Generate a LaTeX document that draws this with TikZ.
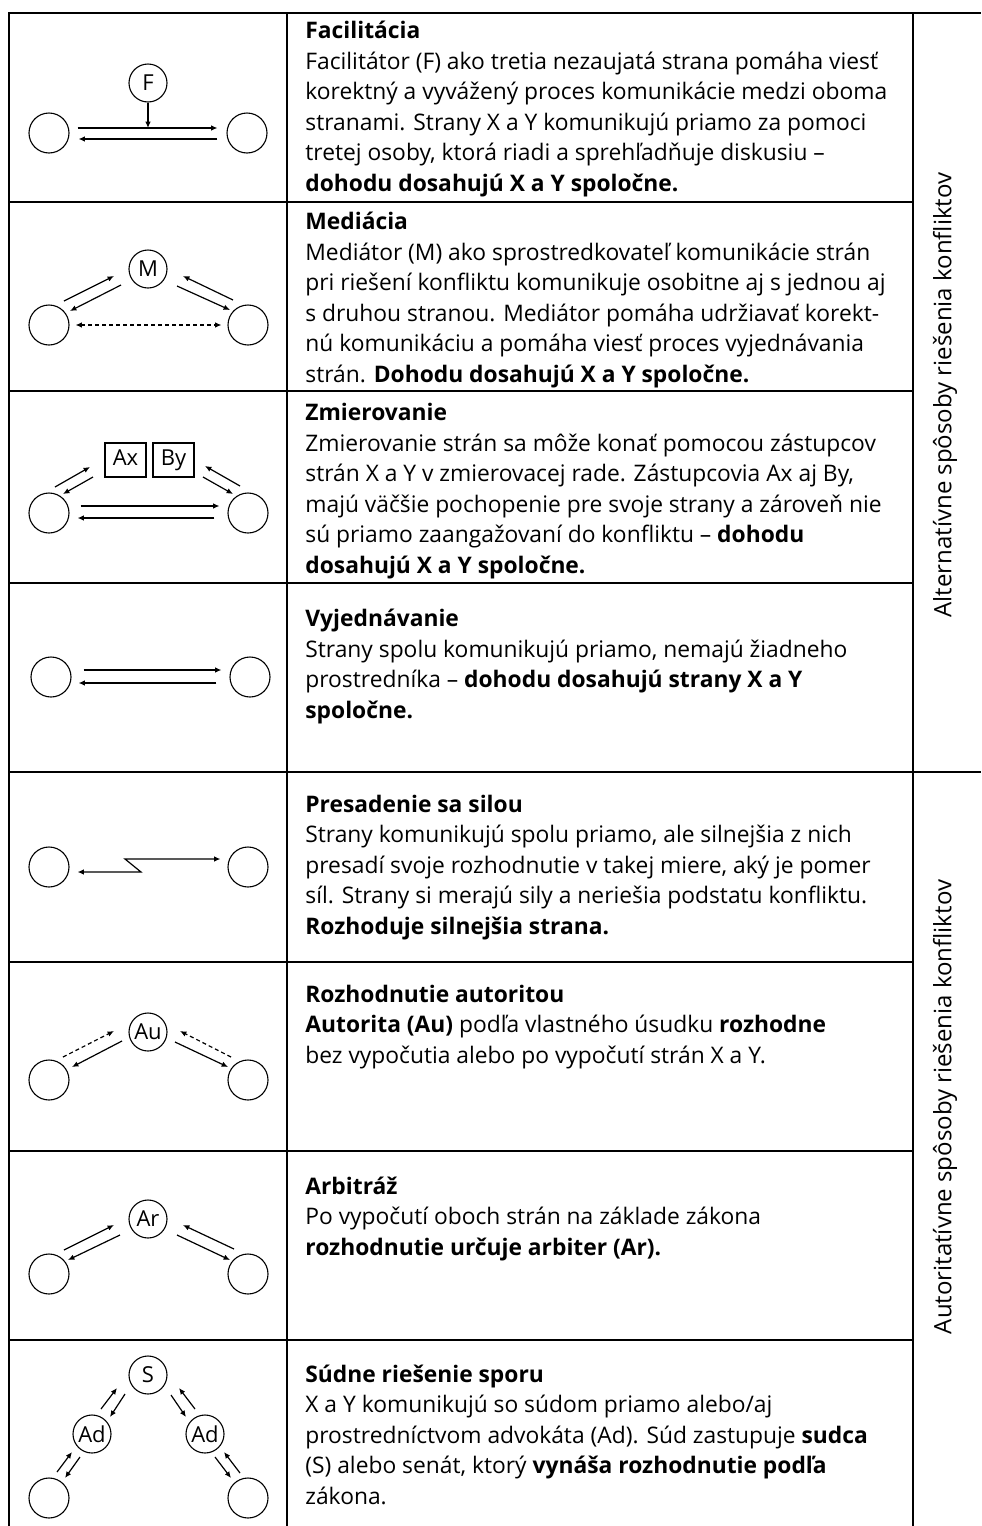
\documentclass[tikz,border=0pt]{standalone}
\usepackage{fontspec}
\setmainfont{Open Sans}
\usetikzlibrary{arrows.meta}

\begin{document}
\begin{tikzpicture}[x=0.5pt,y=-0.5pt,
    tbl/.style={line width=0.7pt},
    party/.style={circle,draw,line width=0.55pt,minimum size=20pt,inner sep=0pt},
    third/.style={circle,draw,line width=0.55pt,minimum size=19pt,inner sep=0pt,font=\fontsize{11}{11}\selectfont},
    rep/.style={rectangle,draw,line width=0.55pt,minimum width=20.5pt,minimum height=17pt,inner sep=0pt,
        text height=8pt,text depth=2.5pt,font=\fontsize{11}{11}\selectfont},
    arr/.style={-{Latex[length=3.2pt,width=2.8pt]},line width=0.6pt},
    arrboth/.style={{Latex[length=3.2pt,width=2.8pt]}-{Latex[length=3.2pt,width=2.8pt]},line width=0.6pt},
    dashes/.style={dash pattern=on 2pt off 1.5pt},
    cell/.style={anchor=base west,align=left,inner sep=0pt,font=\fontsize{11.4}{15.25}\selectfont},
    side/.style={rotate=90,inner sep=0pt,font=\fontsize{12}{14}\selectfont}]
    \useasboundingbox (0,0) rectangle (981,1526);

    % table
    \draw[tbl] (9,1526) -- (9,13) -- (981,13);
    \draw[tbl] (287,13) -- (287,1526);
    \draw[tbl] (913,13) -- (913,1526);
    \foreach \y in {202,391,583,962,1151,1340}
        \draw[tbl] (9,\y) -- (913,\y);
    \draw[tbl] (9,772) -- (981,772);

    \node[side] (altLbl) at (945,395) {Alternatívne spôsoby riešenia konfliktov};
    \node[side] (autLbl) at (945,1107) {Autoritatívne spôsoby riešenia konfliktov};

    % facilitacia
    \node[party] (fX) at (49,133) {};
    \node[party] (fY) at (247,133) {};
    \node[third] (fF) at (148,83) {F};
    \coordinate (fJoin) at (148,128);
    \draw[arr] ([shift={(8,-5)}]fX.east) -- ([shift={(-9,-5)}]fY.west);
    \draw[arr] ([shift={(-9,6)}]fY.west) -- ([shift={(9,6)}]fX.east);
    \draw[arr] (fF) -- (fJoin);
    \node[cell] (fText) at (305,191) {\textbf{Facilitácia}\\
        Facilitátor (F) ako tretia nezaujatá strana pomáha viesť\\
        korektný a vyvážený proces komunikácie medzi oboma\\
        stranami. Strany X a Y komunikujú priamo za pomoci\\
        tretej osoby, ktorá riadi a sprehľadňuje diskusiu –\\
        \textbf{dohodu dosahujú X a Y spoločne.}};

    % mediacia
    \node[party] (mX) at (49,325) {};
    \node[party] (mY) at (248,325) {};
    \node[third] (mM) at (148,269) {M};
    \draw[arr] ([shift={(15,-24)}]mX.center) -- ([shift={(-34,7)}]mM.center);
    \draw[arr] ([shift={(-27,16)}]mM.center) -- ([shift={(21,-14)}]mX.center);
    \draw[arr] ([shift={(-15,-25)}]mY.center) -- ([shift={(35,7)}]mM.center);
    \draw[arr] ([shift={(29,17)}]mM.center) -- ([shift={(-18,-15)}]mY.center);
    \draw[arrboth,dashes] ([xshift=3pt]mX.east) -- ([xshift=-3pt]mY.west);
    \node[cell] (mText) at (305,382) {\textbf{Mediácia}\\
        Mediátor (M) ako sprostredkovateľ komunikácie strán\\
        pri riešení konfliktu komunikuje osobitne aj s jednou aj\\
        s druhou stranou. Mediátor pomáha udržiavať korekt-\\
        nú komunikáciu a pomáha viesť proces vyjednávania\\
        strán. \textbf{Dohodu dosahujú X a Y spoločne.}};

    % zmierovanie
    \node[party] (zX) at (49,513) {};
    \node[party] (zY) at (248,513) {};
    \node[rep] (zA) at (125.5,460) {Ax};
    \node[rep] (zB) at (173.5,460) {By};
    \draw[arr] ([shift={(6,-26)}]zX.center) -- ([shift={(-35.5,7)}]zA.center);
    \draw[arr] ([shift={(-32.5,17)}]zA.center) -- ([shift={(14,-19)}]zX.center);
    \draw[arr] ([shift={(-8,-27)}]zY.center) -- ([shift={(31.5,6)}]zB.center);
    \draw[arr] ([shift={(29.5,17)}]zB.center) -- ([shift={(-15,-19)}]zY.center);
    \draw[arr] ([shift={(11,-7)}]zX.east) -- ([shift={(-8,-7)}]zY.west);
    \draw[arr] ([shift={(-13,5)}]zY.west) -- ([shift={(8,5)}]zX.east);
    \node[cell] (zText) at (305,573) {\textbf{Zmierovanie}\\
        Zmierovanie strán sa môže konať pomocou zástupcov\\
        strán X a Y v zmierovacej rade. Zástupcovia Ax aj By,\\
        majú väčšie pochopenie pre svoje strany a zároveň nie\\
        sú priamo zaangažovaní do konfliktu – \textbf{dohodu}\\
        \textbf{dosahujú X a Y spoločne.}};

    % vyjednavanie
    \node[party] (vX) at (51,677) {};
    \node[party] (vY) at (250,677) {};
    \draw[arr] ([shift={(12,-7)}]vX.east) -- ([shift={(-8,-7)}]vY.west);
    \draw[arr] ([shift={(-13,6)}]vY.west) -- ([shift={(7,6)}]vX.east);
    \node[cell] (vText) at (305,718) {\textbf{Vyjednávanie}\\
        Strany spolu komunikujú priamo, nemajú žiadneho\\
        prostredníka – \textbf{dohodu dosahujú strany X a Y}\\
        \textbf{spoločne.}};

    % presadenie sa silou
    \node[party] (pX) at (49,867) {};
    \node[party] (pY) at (248,867) {};
    \coordinate (pZa) at (141,872);
    \coordinate (pZb) at (125,859);
    \draw[arrboth] ([shift={(8,5)}]pX.east) -- (pZa) -- (pZb) -- ([shift={(-7,-8)}]pY.west);
    \node[cell] (pText) at (305,934) {\textbf{Presadenie sa silou}\\
        Strany komunikujú spolu priamo, ale silnejšia z nich\\
        presadí svoje rozhodnutie v takej miere, aký je pomer\\
        síl. Strany si merajú sily a neriešia podstatu konfliktu.\\
        \textbf{Rozhoduje silnejšia strana.}};

    % rozhodnutie autoritou
    \node[party] (aX) at (49,1080) {};
    \node[party] (aY) at (248,1080) {};
    \node[third] (aM) at (148,1032) {Au};
    \draw[arr,dashes] ([shift={(14,-23)}]aX.center) -- ([shift={(-34,-1)}]aM.center);
    \draw[arr] ([shift={(-26,9)}]aM.center) -- ([shift={(23,-13)}]aX.center);
    \draw[arr,dashes] ([shift={(-17,-23)}]aY.center) -- ([shift={(32,-1)}]aM.center);
    \draw[arr] ([shift={(27,10)}]aM.center) -- ([shift={(-20,-13)}]aY.center);
    \node[cell] (aText) at (305,1063) {\textbf{Rozhodnutie autoritou}\\
        \textbf{Autorita (Au)} podľa vlastného úsudku \textbf{rozhodne}\\
        bez vypočutia alebo po vypočutí strán X a Y.};

    % arbitraz
    \node[party] (rX) at (49,1274) {};
    \node[party] (rY) at (248,1274) {};
    \node[third] (rM) at (148,1219) {Ar};
    \draw[arr] ([shift={(15,-24)}]rX.center) -- ([shift={(-34,6)}]rM.center);
    \draw[arr] ([shift={(-28,16)}]rM.center) -- ([shift={(19,-14)}]rX.center);
    \draw[arr] ([shift={(-14,-25)}]rY.center) -- ([shift={(35,6)}]rM.center);
    \draw[arr] ([shift={(29,16)}]rM.center) -- ([shift={(-18,-14)}]rY.center);
    \node[cell] (rText) at (305,1255) {\textbf{Arbitráž}\\
        Po vypočutí oboch strán na základe zákona\\
        \textbf{rozhodnutie určuje arbiter (Ar).}};

    % sudne riesenie sporu
    \node[party] (sX) at (49,1498) {};
    \node[party] (sY) at (248,1498) {};
    \node[third] (sS) at (148,1375) {S};
    \node[third] (sA) at (92,1434) {Ad};
    \node[third] (sB) at (205,1434) {Ad};
    \draw[arr] ([shift={(9,-25)}]sA.center) -- ([shift={(-31,13)}]sS.center);
    \draw[arr] ([shift={(-23,19)}]sS.center) -- ([shift={(18,-17)}]sA.center);
    \draw[arr] ([shift={(-10,-25)}]sB.center) -- ([shift={(31,13)}]sS.center);
    \draw[arr] ([shift={(23,20)}]sS.center) -- ([shift={(-19,-17)}]sB.center);
    \draw[arr] ([shift={(8,-26)}]sX.center) -- ([shift={(-20,18)}]sA.center);
    \draw[arr] ([shift={(-12,23)}]sA.center) -- ([shift={(16,-20)}]sX.center);
    \draw[arr] ([shift={(-8,-25)}]sY.center) -- ([shift={(19,18)}]sB.center);
    \draw[arr] ([shift={(10,23)}]sB.center) -- ([shift={(-17,-20)}]sY.center);
    \node[cell] (sText) at (305,1504) {\textbf{Súdne riešenie sporu}\\
        X a Y komunikujú so súdom priamo alebo/aj\\
        prostredníctvom advokáta (Ad). Súd zastupuje \textbf{sudca}\\
        (S) alebo senát, ktorý \textbf{vynáša rozhodnutie podľa}\\
        zákona.};
\end{tikzpicture}
\end{document}
